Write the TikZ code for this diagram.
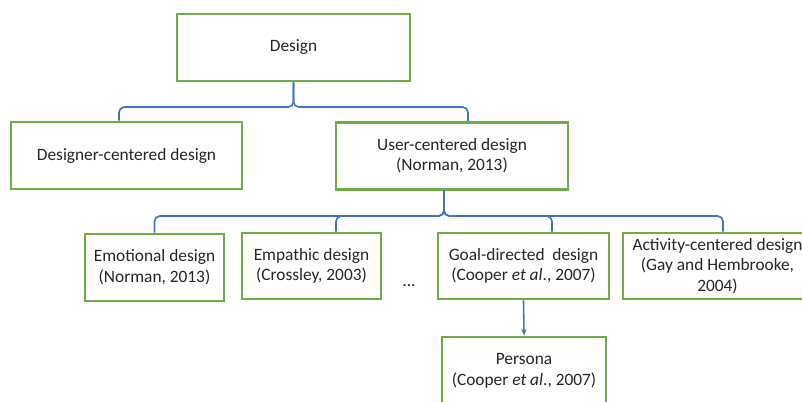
\documentclass[tikz,border=0pt]{standalone}
\usepackage{fontspec}
\setmainfont{Carlito}
\usetikzlibrary{arrows.meta}
\definecolor{boxgreen}{RGB}{112,173,71}
\definecolor{lineblue}{RGB}{68,114,196}
\begin{document}
\begin{tikzpicture}[x=0.75pt,y=-0.75pt,
  box/.style={draw=boxgreen,line width=2.2pt,fill=white,inner sep=0pt,align=center,
    font=\fontsize{13}{15.5}\selectfont,text=black!85},
  conn/.style={draw=lineblue,line width=1.2pt,rounded corners=4pt}]
\useasboundingbox (0,0) rectangle (802,401);
\clip (0,0) rectangle (802,401);
\fill[white] (0,0) rectangle (802,401);
% nodes
\node[box,minimum width=174.75pt,minimum height=50.25pt] (design) at (293.5,47.5) {Design};
\node[box,minimum width=173.25pt,minimum height=50.25pt] (dc) at (126.5,155.5) {Designer-centered design};
\node[box,minimum width=174pt,minimum height=50.25pt] (uc) at (452,155.75) {User-centered design\\(Norman, 2013)};
\node[box,minimum width=104.25pt,minimum height=50.25pt] (emo) at (154.5,267.5) {Emotional design\\(Norman, 2013)};
\node[box,minimum width=104.25pt,minimum height=49.5pt] (emp) at (311.5,266) {Empathic design\\(Crossley, 2003)};
\node[font=\fontsize{13}{15.5}\selectfont,text=black!85] (dots) at (409,286) {...};
\node[box,minimum width=128.25pt,minimum height=49.5pt] (goal) at (523.5,266) {Goal-directed\ \ design\\(Cooper \textit{et al}., 2007)};
\node[box,minimum width=141.75pt,minimum height=49.5pt] (act) at (717.5,266) {Activity-centered design\\(Gay and Hembrooke,\\2004)};
\node[box,minimum width=123pt,minimum height=50.25pt] (persona) at (524,370.5) {Persona\\(Cooper \textit{et al}., 2007)};
% helper coordinates
\coordinate (xa) at (119,0);
\coordinate (xb) at (468,0);
\coordinate (yb) at (0,107);
\coordinate (xc) at (444,0);
\coordinate (yc) at (0,216);
\coordinate (xemp) at (336,0);
\coordinate (xgoal) at (552,0);
\coordinate (xact) at (723,0);
% upper brace
\draw[conn] (dc.north -| xa) |- (design.south |- yb) -- (design.south);
\draw[conn] (uc.north -| xb) |- (design.south |- yb) -- (design.south);
% lower brace
\draw[conn] (emo.north) |- (xc |- yc) -- (uc.south -| xc);
\draw[conn] (emp.north -| xemp) |- (xc |- yc) -- (uc.south -| xc);
\draw[conn] (goal.north -| xgoal) |- (xc |- yc) -- (uc.south -| xc);
\draw[conn] (act.north -| xact) |- (xc |- yc) -- (uc.south -| xc);
% arrow
\draw[draw=lineblue,line width=1.2pt,-{Stealth[length=5pt,width=4pt]}] (goal.south) -- (persona.north);
\end{tikzpicture}
\end{document}
